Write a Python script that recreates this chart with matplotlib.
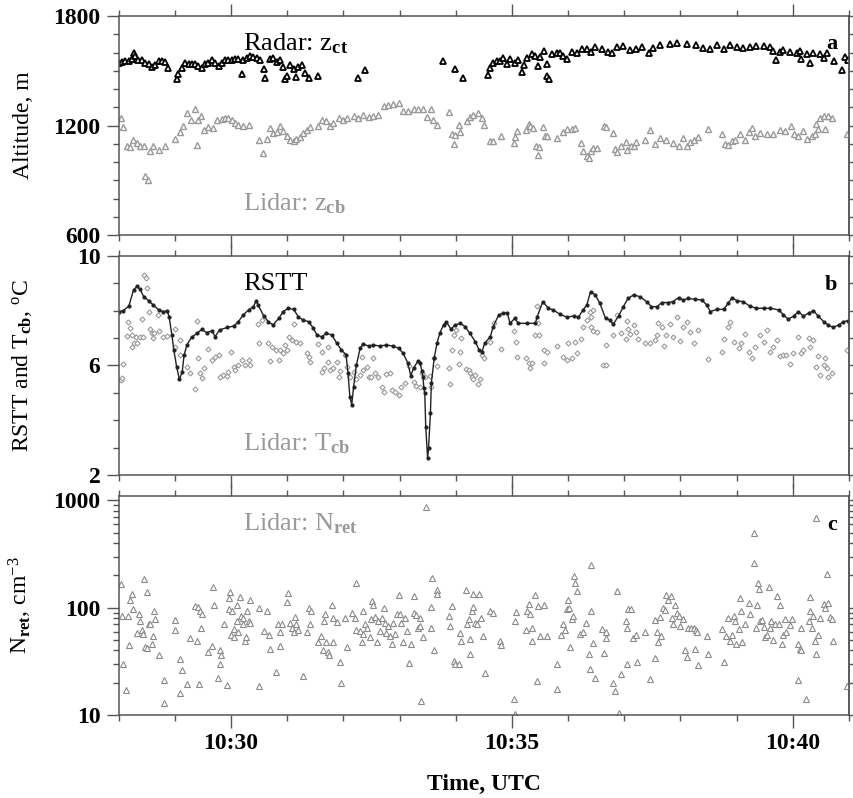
import matplotlib
matplotlib.use("Agg")
import matplotlib.pyplot as plt
import numpy as np
from matplotlib.ticker import MultipleLocator, FixedLocator, FuncFormatter, NullFormatter, LogLocator

plt.rcParams['font.family'] = ['Liberation Serif', 'DejaVu Serif']
plt.rcParams['mathtext.fontset'] = 'custom'
plt.rcParams['mathtext.rm'] = 'Liberation Serif'
plt.rcParams['mathtext.it'] = 'Liberation Serif:italic'
plt.rcParams['mathtext.bf'] = 'Liberation Serif:bold'

GREY = "#999999"
SPINE = "#555555"

# times in seconds after 10:28:00
radar_t = [0, 4, 7, 11, 14, 16, 18, 21, 25, 28,
           32, 36, 39, 43, 46, 50, 53, 62, 64, 68,
           71, 75, 78, 82, 85, 89, 92, 96, 100, 103,
           107, 110, 114, 117, 121, 124, 128, 132, 133, 137,
           140, 144, 148, 151, 155, 156, 162, 165, 169, 172,
           176, 178, 180, 183, 187, 189, 192, 196, 199, 203,
           213, 256, 263, 346, 359, 368, 395, 397, 400, 404,
           407, 411, 415, 418, 423, 427, 431, 433, 436, 441,
           445, 448, 450, 454, 457, 458, 460, 463, 468, 471,
           475, 479, 484, 489, 495, 500, 505, 509, 516, 523,
           527, 532, 539, 546, 553, 559, 566, 571, 578, 589,
           596, 607, 617, 624, 632, 639, 646, 653, 660, 667,
           674, 681, 689, 696, 699, 702, 706, 710, 717, 724,
           728, 729, 735, 738, 742, 749, 753, 756, 764, 773,
           776, 779]
radar_z = [1545, 1550, 1555, 1555, 1565, 1600, 1580, 1560, 1557, 1545,
           1535, 1520, 1530, 1555, 1555, 1550, 1517, 1453, 1480, 1517,
           1541, 1538, 1535, 1535, 1525, 1517, 1535, 1541, 1557, 1545,
           1525, 1545, 1557, 1557, 1560, 1563, 1567, 1480, 1560, 1570,
           1582, 1578, 1570, 1560, 1510, 1462, 1565, 1570, 1550, 1560,
           1520, 1453, 1470, 1530, 1510, 1465, 1520, 1530, 1490, 1462,
           1471, 1460, 1503, 1554, 1512, 1459, 1475, 1517, 1545, 1554,
           1554, 1572, 1535, 1565, 1545, 1560, 1494, 1530, 1572, 1590,
           1580, 1527, 1575, 1609, 1535, 1471, 1453, 1590, 1600, 1595,
           1580, 1563, 1605, 1600, 1618, 1622, 1605, 1631, 1620, 1605,
           1600, 1630, 1637, 1615, 1618, 1631, 1600, 1625, 1640, 1646,
           1651, 1646, 1640, 1625, 1618, 1640, 1620, 1640, 1628, 1625,
           1631, 1635, 1635, 1633, 1610, 1558, 1605, 1615, 1604, 1600,
           1610, 1567, 1590, 1541, 1595, 1590, 1570, 1595, 1554, 1503,
           1576, 1560]

zcb_t = [3, 5, 9, 12, 15, 20, 23, 27, 28, 31,
         34, 37, 43, 50, 60, 66, 69, 73, 77, 82,
         84, 85, 88, 91, 96, 101, 105, 110, 114, 117,
         121, 124, 128, 133, 139, 150, 154, 158, 162, 165,
         169, 172, 176, 180, 183, 187, 190, 194, 197, 201,
         204, 213, 217, 222, 226, 229, 235, 240, 244, 251,
         256, 261, 267, 272, 277, 283, 288, 293, 299, 304,
         309, 315, 320, 325, 329, 334, 336, 340, 353, 356,
         358, 359, 364, 365, 372, 375, 379, 384, 388, 390,
         397, 400, 408, 422, 423, 425, 435, 438, 439, 443,
         446, 448, 449, 453, 455, 458, 468, 475, 479, 484,
         487, 494, 496, 500, 502, 504, 507, 511, 518, 521,
         528, 530, 532, 537, 542, 543, 547, 550, 553, 562,
         567, 573, 578, 585, 592, 598, 603, 607, 610, 614,
         619, 629, 644, 648, 651, 655, 658, 664, 669, 673,
         676, 680, 685, 692, 699, 706, 712, 718, 721, 726,
         731, 735, 740, 744, 745, 747, 749, 753, 754, 758,
         762, 778]
zcb_z = [1242, 1191, 1086, 1081, 1123, 1105, 1086, 1086, 921, 903,
         1059, 1086, 1068, 1090, 1127, 1163, 1196, 1270, 1229, 1288,
         1095, 1232, 1251, 1174, 1193, 1187, 1229, 1237, 1242, 1239,
         1229, 1215, 1205, 1200, 1205, 1119, 1050, 1127, 1187, 1160,
         1163, 1196, 1169, 1145, 1119, 1114, 1127, 1138, 1160, 1174,
         1191, 1200, 1229, 1224, 1196, 1215, 1242, 1232, 1242, 1251,
         1242, 1255, 1248, 1251, 1260, 1306, 1310, 1316, 1321, 1279,
         1279, 1292, 1288, 1288, 1248, 1288, 1232, 1205, 1273, 1154,
         1099, 1147, 1205, 1163, 1224, 1248, 1260, 1270, 1242, 1205,
         1117, 1114, 1141, 1105, 1138, 1172, 1174, 1211, 1196, 1187,
         1086, 1040, 1081, 1191, 1141, 1141, 1132, 1163, 1182, 1182,
         1187, 1105, 1059, 1031, 1022, 1059, 1077, 1077, 1200, 1191,
         1160, 1072, 1053, 1090, 1108, 1068, 1086, 1086, 1108, 1123,
         1178, 1101, 1132, 1123, 1105, 1090, 1132, 1086, 1108, 1123,
         1138, 1182, 1151, 1101, 1095, 1114, 1123, 1151, 1123, 1163,
         1187, 1145, 1160, 1151, 1151, 1178, 1169, 1200, 1151, 1145,
         1169, 1127, 1141, 1151, 1211, 1182, 1242, 1251, 1182, 1251,
         1242, 1156]

rstt_t = [0, 5, 11, 16, 20, 23, 27, 32, 37, 43,
          48, 52, 54, 57, 59, 62, 65, 68, 70, 73,
          78, 84, 89, 94, 100, 103, 108, 116, 123, 128,
          133, 139, 144, 147, 149, 155, 160, 165, 171, 176,
          181, 187, 192, 197, 203, 208, 212, 217, 222, 228,
          233, 238, 243, 245, 247, 249, 251, 254, 258, 261,
          267, 272, 279, 286, 293, 299, 304, 309, 312, 315,
          320, 322, 324, 325, 326, 327, 328, 330, 331, 333,
          334, 337, 340, 343, 347, 350, 355, 359, 365, 370,
          375, 381, 385, 388, 391, 397, 400, 406, 411, 415,
          418, 423, 427, 436, 445, 447, 453, 459, 464, 471,
          479, 486, 491, 496, 500, 504, 509, 514, 520, 525,
          528, 534, 539, 544, 550, 557, 564, 569, 575, 580,
          587, 592, 598, 603, 608, 616, 623, 628, 632, 639,
          646, 651, 655, 660, 667, 674, 681, 689, 696, 705,
          710, 715, 721, 726, 731, 737, 742, 747, 753, 758,
          763, 769, 774, 779]
rstt_T = [7.97, 8.0, 8.17, 8.76, 8.90, 8.78, 8.51, 8.37, 8.21, 8.03,
          7.97, 8.0, 7.78, 7.11, 6.57, 5.96, 5.49, 5.77, 6.38, 6.75,
          7.03, 7.18, 7.32, 7.2, 7.27, 7.05, 7.3, 7.39, 7.44, 7.6,
          7.85, 8.03, 8.15, 8.37, 8.21, 7.81, 7.6, 7.48, 7.72, 7.97,
          8.09, 8.05, 7.78, 7.66, 7.6, 7.36, 7.11, 7.05, 7.18, 7.11,
          6.81, 6.57, 6.38, 5.71, 4.86, 4.56, 5.23, 6.02, 6.63, 6.79,
          6.71, 6.75, 6.71, 6.75, 6.71, 6.63, 6.44, 6.08, 5.62, 5.9,
          6.18, 6.08, 5.8, 5.59, 5.17, 4.98, 3.77, 2.61, 2.97, 4.25,
          5.35, 6.26, 6.81, 7.18, 7.48, 7.6, 7.32, 7.48, 7.54, 7.42,
          7.18, 6.87, 6.57, 6.5, 6.81, 7.05, 7.42, 7.85, 7.91, 7.93,
          7.54, 7.72, 7.54, 7.54, 7.54, 7.78, 8.33, 8.09, 8.03, 7.88,
          7.76, 7.81, 7.76, 8.03, 8.21, 8.70, 8.58, 8.27, 7.72, 7.66,
          7.5, 7.81, 8.15, 8.45, 8.58, 8.51, 8.33, 8.15, 8.15, 8.3,
          8.3, 8.33, 8.48, 8.39, 8.45, 8.42, 8.39, 8.21, 7.97, 8.05,
          8.05, 8.27, 8.48, 8.37, 8.33, 8.17, 8.09, 8.09, 8.09, 8.03,
          7.85, 7.69, 7.81, 7.97, 7.81, 7.91, 8.0, 7.81, 7.6, 7.48,
          7.39, 7.48, 7.6, 7.64]

tcb_t = [3, 4, 5, 9, 10, 12, 14, 14, 16, 19,
         20, 23, 25, 26, 27, 29, 30, 32, 34, 36,
         37, 38, 42, 43, 48, 52, 60, 60, 66, 66,
         73, 76, 82, 84, 85, 87, 89, 91, 96, 100,
         103, 107, 108, 112, 116, 117, 120, 123, 124, 128,
         132, 135, 139, 140, 149, 153, 150, 160, 162, 164,
         168, 171, 172, 176, 178, 180, 182, 185, 187, 190,
         194, 201, 203, 204, 213, 217, 217, 219, 224, 224,
         226, 229, 233, 235, 236, 242, 244, 247, 251, 254,
         258, 260, 261, 265, 267, 270, 272, 274, 277, 281,
         283, 286, 290, 292, 295, 299, 302, 306, 310, 315,
         318, 322, 327, 324, 333, 334, 337, 340, 353, 354,
         356, 358, 360, 364, 365, 366, 371, 374, 375, 377,
         379, 381, 384, 386, 388, 390, 397, 401, 408, 422,
         424, 425, 435, 438, 439, 441, 445, 447, 448, 449,
         454, 454, 458, 468, 475, 479, 480, 484, 487, 489,
         494, 496, 500, 503, 505, 507, 504, 507, 511, 517,
         520, 521, 528, 532, 536, 543, 542, 544, 546, 550,
         552, 555, 562, 568, 573, 575, 576, 580, 582, 585,
         589, 592, 596, 600, 603, 607, 610, 614, 619, 629,
         644, 647, 651, 653, 657, 662, 665, 669, 673, 676,
         680, 685, 689, 692, 696, 699, 703, 706, 710, 713,
         717, 720, 726, 729, 731, 737, 738, 742, 745, 747,
         749, 753, 754, 756, 758, 762, 778]
tcb_T = [5.47, 5.53, 6.05, 7.08, 7.6, 7.36, 7.11, 6.66, 6.81, 7.05,
         6.81, 7.05, 7.69, 7.05, 9.31, 9.18, 8.82, 7.97, 7.32, 7.18,
         7.0, 7.18, 7.85, 7.27, 7.05, 7.08, 7.32, 6.69, 6.93, 6.38,
         5.96, 5.74, 5.14, 7.64, 6.26, 5.71, 5.53, 5.9, 6.6, 6.2,
         6.3, 6.38, 5.59, 5.65, 5.62, 5.77, 6.5, 5.96, 5.84, 6.02,
         6.2, 6.02, 6.2, 6.02, 7.52, 7.66, 6.81, 6.81, 6.18, 6.69,
         6.57, 6.2, 6.57, 6.44, 6.75, 6.57, 7.03, 6.93, 7.52, 6.87,
         6.81, 6.44, 6.32, 6.14, 6.79, 6.5, 5.77, 5.9, 6.69, 6.14,
         5.84, 5.9, 6.14, 5.59, 5.81, 6.38, 5.96, 5.57, 5.77, 5.49,
         5.65, 6.3, 5.84, 5.96, 5.59, 5.59, 6.26, 5.74, 5.57, 5.23,
         5.04, 5.69, 5.71, 5.1, 5.04, 4.92, 5.23, 5.35, 5.98, 5.41,
         5.25, 5.23, 5.57, 5.74, 5.62, 5.23, 6.26, 5.98, 5.9, 5.32,
         6.57, 7.11, 7.3, 6.05, 6.5, 7.0, 5.86, 5.84, 5.71, 5.59,
         5.49, 5.65, 5.32, 5.49, 6.38, 6.26, 6.87, 7.54, 6.59, 7.27,
         6.87, 6.3, 6.26, 6.08, 5.9, 6.1, 7.11, 8.17, 7.54, 7.11,
         6.57, 6.08, 6.5, 6.71, 6.3, 6.2, 6.81, 6.26, 6.87, 6.44,
         6.96, 7.39, 7.66, 7.97, 7.78, 8.03, 7.39, 7.27, 7.23, 6.02,
         6.02, 6.75, 7.11, 7.85, 7.18, 7.64, 6.96, 7.32, 7.15, 7.48,
         7.23, 6.96, 6.81, 6.81, 6.93, 7.11, 7.57, 7.39, 6.71, 7.11,
         7.52, 7.05, 7.76, 6.91, 7.39, 7.6, 7.23, 6.81, 7.3, 6.23,
         6.5, 6.96, 7.42, 7.6, 6.87, 6.63, 6.81, 7.15, 6.5, 6.26,
         6.69, 7.11, 6.87, 7.3, 6.5, 6.69, 6.93, 6.35, 6.38, 6.38,
         6.05, 6.47, 7.05, 6.44, 6.57, 7.0, 6.69, 6.93, 5.96, 6.35,
         5.65, 6.02, 6.26, 5.9, 5.59, 5.71, 6.57]

nret_t = [3, 4, 5, 8, 10, 11, 12, 14, 15, 20,
          22, 23, 25, 26, 27, 28, 30, 30, 33, 34,
          36, 37, 38, 39, 43, 49, 49, 60, 60, 66,
          68, 66, 73, 76, 82, 84, 85, 87, 89, 86,
          88, 96, 100, 101, 102, 106, 108, 108, 109, 113,
          116, 118, 118, 119, 121, 120, 123, 123, 126, 127,
          128, 130, 131, 133, 133, 135, 136, 137, 139, 140,
          140, 150, 150, 155, 158, 161, 162, 168, 170, 172,
          172, 175, 180, 181, 183, 185, 187, 188, 190, 192,
          197, 201, 203, 204, 206, 213, 216, 218, 219, 220,
          221, 224, 225, 228, 229, 229, 233, 236, 238, 242,
          244, 249, 253, 254, 254, 258, 260, 261, 261, 263,
          265, 268, 270, 271, 272, 274, 276, 277, 279, 281,
          283, 285, 286, 288, 290, 292, 293, 295, 297, 299,
          300, 302, 304, 306, 308, 310, 312, 315, 315, 318,
          320, 322, 323, 325, 328, 322, 334, 335, 337, 340,
          340, 334, 353, 354, 356, 358, 359, 364, 365, 366,
          371, 372, 374, 375, 375, 377, 378, 379, 381, 383,
          385, 387, 389, 391, 397, 400, 407, 408, 422, 423,
          424, 423, 435, 436, 438, 439, 441, 442, 445, 447,
          448, 450, 454, 458, 468, 468, 472, 475, 477, 479,
          480, 481, 482, 484, 485, 486, 487, 489, 493, 496,
          499, 502, 503, 504, 505, 507, 509, 516, 518, 520,
          521, 528, 530, 532, 534, 537, 542, 543, 543, 544,
          547, 549, 552, 554, 562, 567, 573, 573, 575, 576,
          578, 579, 581, 584, 585, 587, 590, 591, 592, 594,
          596, 598, 600, 603, 605, 607, 608, 611, 614, 616,
          617, 618, 619, 628, 629, 644, 647, 649, 651, 653,
          655, 657, 658, 659, 662, 664, 665, 666, 669, 673,
          674, 678, 679, 681, 683, 684, 682, 685, 687, 689,
          690, 692, 694, 696, 697, 699, 701, 703, 705, 706,
          708, 710, 712, 713, 717, 719, 726, 728, 729, 726,
          729, 734, 737, 738, 738, 740, 742, 744, 745, 747,
          745, 749, 753, 754, 756, 758, 760, 762, 763, 778]
nret_n = [168, 83, 30, 17, 84, 45, 119, 133, 98, 58,
          87, 75, 62, 57, 185, 43, 139, 42, 71, 70,
          46, 55, 93, 78, 36, 21, 13, 77, 62, 33,
          26, 16, 19.5, 52, 104, 49, 101, 94, 87, 19.5,
          65, 38.5, 44, 155, 107, 22, 40, 30, 36, 71,
          19, 97, 122, 139, 93, 56, 53, 64, 106, 75,
          60, 127, 83, 80, 70, 49, 53, 94, 76, 119,
          72, 100, 18.6, 61, 93, 56, 41.5, 25, 70, 60,
          44, 70, 113, 137, 72, 65, 60, 82, 70, 62,
          23, 60, 100, 70, 93, 47.5, 55, 40, 75, 87,
          47.5, 38.5, 36, 106, 81, 47.5, 73, 31, 20, 80,
          43, 89, 81, 170, 62, 61, 47.5, 94, 57, 70,
          65, 53, 78, 115, 107, 82, 47.5, 76, 61, 81,
          100, 72, 58, 68, 55, 46, 72, 57, 87, 131,
          87, 72, 47.5, 81, 61, 30.5, 46, 128, 89, 85,
          65, 81, 13.4, 53, 868, 68, 65, 189, 40, 146,
          135, 101, 84, 68, 104, 32, 30, 30, 58, 49,
          146, 70, 79, 51, 37, 94, 101, 135, 72, 71,
          135, 81, 54, 24.5, 93, 89, 49, 44.5, 14, 75,
          91, 10.3, 62, 93, 109, 87, 65, 49, 131, 20.6,
          104, 54, 106, 54, 30, 17.3, 56, 70, 62, 98,
          118, 99, 43, 79, 84, 197, 170, 142, 57, 60,
          72, 37, 27, 248, 93, 47, 22, 64, 38, 60,
          52, 20, 16.8, 142, 10.4, 24, 75, 65, 30, 98,
          98, 52, 56, 31, 60, 21.5, 34, 77, 60, 47.5,
          82, 55, 99, 96, 131, 118, 129, 81, 71, 106,
          89, 84, 68, 79, 40, 34.5, 65, 65, 65, 41.5,
          62, 60, 29, 54, 37, 63, 31, 55, 81, 49,
          56, 84, 75, 46, 63, 124, 93, 48, 70, 111,
          87, 500, 260, 65, 170, 150, 107, 75, 77, 66,
          53, 56, 155, 65, 75, 50, 70, 128, 70, 106,
          46, 56, 79, 60, 69, 79, 46, 41, 40, 21,
          65, 14, 75, 93, 126, 65, 84, 49, 37, 56,
          690, 81, 109, 100, 207, 111, 82, 78, 49, 18.5]


def to_min(t):
    # minutes after 10:00
    return 28 + np.asarray(t) / 60.0


def style_axes(ax, major, minor, log=False):
    for s in ax.spines.values():
        s.set_color(SPINE)
        s.set_linewidth(1.1)
    ax.set_xlim(28, 41)
    ax.xaxis.set_major_locator(FixedLocator([30, 35, 40]))
    ax.xaxis.set_minor_locator(MultipleLocator(1))
    ax.xaxis.set_major_formatter(FuncFormatter(lambda v, p: "10:%02d" % int(round(v))))
    ax.tick_params(which='both', direction='out', top=True, right=False,
                   color=SPINE, width=1.0, labelsize=17, pad=4)
    ax.tick_params(which='major', length=9)
    ax.tick_params(which='minor', length=4.5)
    ax.yaxis.set_major_locator(FixedLocator(major))
    if log:
        ax.yaxis.set_minor_locator(LogLocator(base=10, subs=np.arange(2, 10)))
        ax.yaxis.set_major_formatter(FuncFormatter(lambda v, p: "%g" % v))
        ax.yaxis.set_minor_formatter(NullFormatter())
    else:
        ax.yaxis.set_minor_locator(MultipleLocator(minor))
    for lab in ax.get_xticklabels() + ax.get_yticklabels():
        lab.set_fontweight('bold')
    # short ticks on the right side
    sec = ax.secondary_yaxis('right')
    sec.yaxis.set_major_locator(FixedLocator(major))
    if log:
        sec.yaxis.set_minor_locator(LogLocator(base=10, subs=np.arange(2, 10)))
    else:
        sec.yaxis.set_minor_locator(MultipleLocator(minor))
    sec.tick_params(which='both', direction='out', length=3, width=1.0,
                    color=SPINE, labelright=False)
    sec.spines['right'].set_color(SPINE)
    sec.spines['right'].set_linewidth(1.1)


fig = plt.figure(figsize=(8.54, 7.98), dpi=100)
left, width, height = 0.1388, 0.8554, 0.2744
ax1 = fig.add_axes([left, 0.7055, width, height])
ax2 = fig.add_axes([left, 0.4048, width, height])
ax3 = fig.add_axes([left, 0.1040, width, height])

# a) radar cloud top, lidar cloud base
ax1.plot(to_min(zcb_t), zcb_z, ls='none', marker='^', ms=4.5, mfc='white', mec=GREY, mew=1.0)
ax1.plot(to_min(radar_t), radar_z, ls='none', marker='^', ms=4.3, mfc='white', mec='black', mew=1.3)
ax1.set_ylim(600, 1800)
style_axes(ax1, [600, 1200, 1800], 100)
ax1.set_ylabel("Altitude, m", fontsize=17)
ax1.text(0.171, 0.845, r"Radar: z$_\mathbf{ct}$", transform=ax1.transAxes, fontsize=19, color='black')
ax1.text(0.171, 0.114, r"Lidar: z$_\mathbf{cb}$", transform=ax1.transAxes, fontsize=19, color=GREY)
ax1.text(0.984, 0.85, "a", transform=ax1.transAxes, fontsize=16, fontweight='bold', ha='right')

# b) RSTT and lidar cloud base temperature
ax2.plot(to_min(tcb_t), tcb_T, ls='none', marker='D', ms=2.6, mfc='white', mec=GREY, mew=0.8)
ax2.plot(to_min(rstt_t), rstt_T, '-', color='#222222', lw=1.0, marker='o', ms=2, mfc='#222222', mec='#222222')
ax2.set_ylim(2, 10)
style_axes(ax2, [2, 6, 10], 1)
ax2.set_ylabel(r"RSTT and T$_\mathbf{cb}$, $^\mathrm{o}$C", fontsize=17)
ax2.text(0.171, 0.845, "RSTT", transform=ax2.transAxes, fontsize=19, color='black')
ax2.text(0.171, 0.114, r"Lidar: T$_\mathbf{cb}$", transform=ax2.transAxes, fontsize=19, color=GREY)
ax2.text(0.984, 0.845, "b", transform=ax2.transAxes, fontsize=16, fontweight='bold', ha='right')

# c) retrieved droplet number
ax3.set_yscale('log')
ax3.plot(to_min(nret_t), nret_n, ls='none', marker='^', ms=4, mfc='white', mec='#8a8a8a', mew=0.8)
ax3.set_ylim(10, 1100)
style_axes(ax3, [10, 100, 1000], None, log=True)
ax3.set_ylabel(r"N$_\mathbf{ret}$, cm$^\mathrm{-3}$", fontsize=17)
ax3.set_xlabel("Time, UTC", fontsize=17, fontweight='bold', labelpad=14)
ax3.text(0.171, 0.845, r"Lidar: N$_\mathbf{ret}$", transform=ax3.transAxes, fontsize=19, color=GREY)
ax3.text(0.984, 0.845, "c", transform=ax3.transAxes, fontsize=16, fontweight='bold', ha='right')

for ax in (ax1, ax2):
    ax.tick_params(labelbottom=False)
for ax in (ax1, ax2, ax3):
    ax.yaxis.set_label_coords(-0.116, 0.5)

fig.savefig("out.png", dpi=100)
